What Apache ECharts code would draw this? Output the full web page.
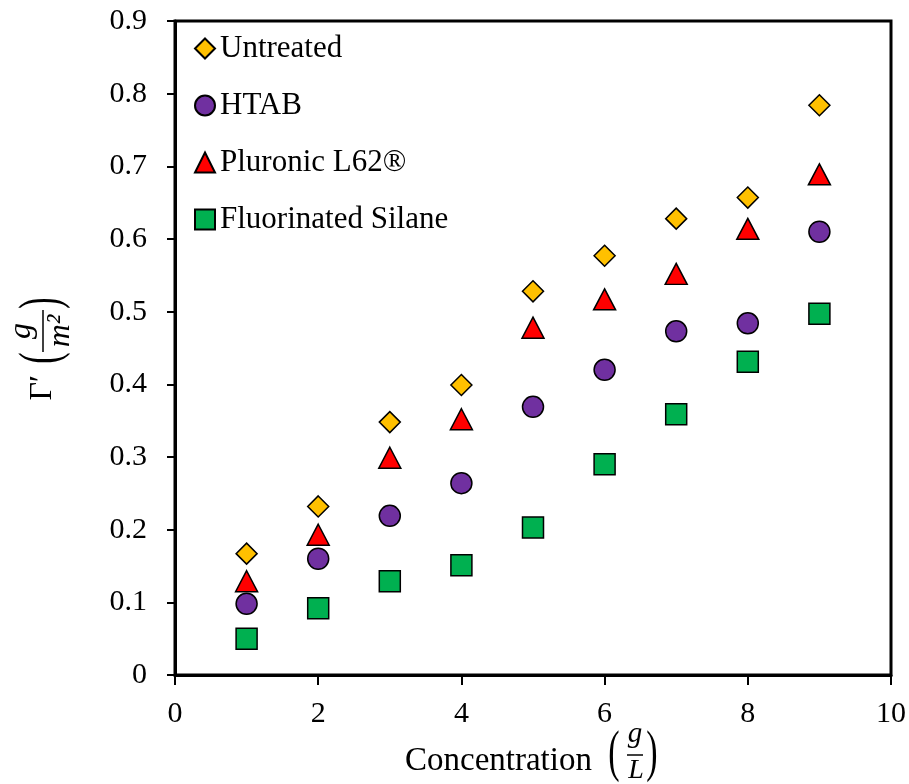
<!DOCTYPE html>
<html>
<head>
<meta charset="utf-8">
<script src="https://cdn.jsdelivr.net/npm/echarts@6/dist/echarts.min.js"></script>
<style>
  html, body { margin: 0; padding: 0; background: #fff; }
  #chart { width: 909px; height: 784px; }
</style>
</head>
<body>
<div id="chart"></div>
<script>
// 数据
var concentration = [1, 2, 3, 4, 5, 6, 7, 8, 9];
var untreated = [0.167, 0.232, 0.348, 0.399, 0.528, 0.577, 0.628, 0.657, 0.784];
var htab = [0.098, 0.160, 0.219, 0.264, 0.369, 0.420, 0.473, 0.484, 0.610];
var pluronic = [0.129, 0.193, 0.299, 0.352, 0.478, 0.517, 0.552, 0.614, 0.689];
var fluorinated = [0.050, 0.092, 0.129, 0.151, 0.203, 0.290, 0.359, 0.431, 0.497];
var seriesNames = ["Untreated", "HTAB", "Pluronic L62®", "Fluorinated Silane"];

var FONT = "Liberation Serif";

function pairs(ys) {
  return concentration.map(function (x, i) { return [x, ys[i]]; });
}

function scatter(name, ys, symbol, size, color) {
  return {
    name: name,
    type: "scatter",
    data: pairs(ys),
    symbol: symbol,
    symbolSize: size,
    itemStyle: { color: color, borderColor: "#000", borderWidth: 1.5, opacity: 1 },
    emphasis: { disabled: true },
  };
}

function txt(text, x, y, size, opts) {
  opts = opts || {};
  return {
    type: "text",
    x: x,
    y: y,
    scaleX: opts.sx || 1,
    scaleY: opts.sy || 1,
    style: {
      text: text,
      fontFamily: FONT,
      fontSize: size,
      fontStyle: opts.italic ? "italic" : "normal",
      fill: "#000",
      align: opts.align || "center",
      verticalAlign: opts.va || "middle",
    },
  };
}

var myChart = echarts.init(document.getElementById("chart"));

var option = {
  animation: false,
  grid: {
    left: 175,
    right: 18,
    top: 21,
    bottom: 109,
    show: true,
    borderColor: "#000",
    borderWidth: 3,
  },
  legend: {
    orient: "vertical",
    left: 194,
    top: 33,
    padding: 0,
    itemWidth: 20,
    itemHeight: 20,
    itemGap: 26,
    data: seriesNames,
    textStyle: { fontFamily: FONT, fontSize: 31, color: "#000" },
    selectedMode: false,
  },
  xAxis: {
    type: "value",
    min: 0,
    max: 10,
    interval: 2,
    splitLine: { show: false },
    axisLine: { onZero: false, lineStyle: { color: "#000", width: 3 } },
    axisTick: { inside: false, length: 10, lineStyle: { color: "#000", width: 2 } },
    axisLabel: { fontFamily: FONT, fontSize: 30, color: "#000", margin: 24 },
  },
  yAxis: {
    type: "value",
    min: 0,
    max: 0.9,
    interval: 0.1,
    splitLine: { show: false },
    axisLine: { onZero: false, lineStyle: { color: "#000", width: 3 } },
    axisTick: { inside: false, length: 8, lineStyle: { color: "#000", width: 2 } },
    axisLabel: { fontFamily: FONT, fontSize: 30, color: "#000", margin: 28 },
  },
  series: [
    scatter(seriesNames[0], untreated, "diamond", 21, "#FFC000"),
    scatter(seriesNames[1], htab, "circle", 21, "#7030A0"),
    scatter(seriesNames[2], pluronic, "triangle", [22, 21], "#FF0000"),
    scatter(seriesNames[3], fluorinated, "rect", 21, "#00B050"),
  ],
  graphic: [
    // x axis title: Concentration (g/L)
    {
      type: "group",
      children: [
        txt("Concentration", 405, 761, 33, { align: "left" }),
        txt("(", 614, 755, 34, { sy: 1.65 }),
        txt("g", 635, 749, 29, { italic: true, va: "bottom" }),
        { type: "line", shape: { x1: 627, y1: 755, x2: 643, y2: 755 }, style: { stroke: "#000", lineWidth: 1.5 } },
        txt("L", 636, 771, 28, { italic: true }),
        txt(")", 652, 755, 34, { sy: 1.65 }),
      ],
    },
    // y axis title: Γ′ (g/m²)
    {
      type: "group",
      x: 43,
      y: 331,
      rotation: Math.PI / 2,
      children: [
        txt("Γ′", -44, 0, 32, { align: "right" }),
        txt("(", -27, 0, 34, { sy: 1.65 }),
        txt("g", 0, -5, 32, { italic: true, va: "bottom" }),
        { type: "line", shape: { x1: -21, y1: 0, x2: 21, y2: 0 }, style: { stroke: "#000", lineWidth: 1.5 } },
        txt("m²", 0, 2, 32, { italic: true, va: "top" }),
        txt(")", 28, 0, 34, { sy: 1.65 }),
      ],
    },
  ],
};

if (option && typeof option === "object") {
  myChart.setOption(option);
}
</script>
</body>
</html>
